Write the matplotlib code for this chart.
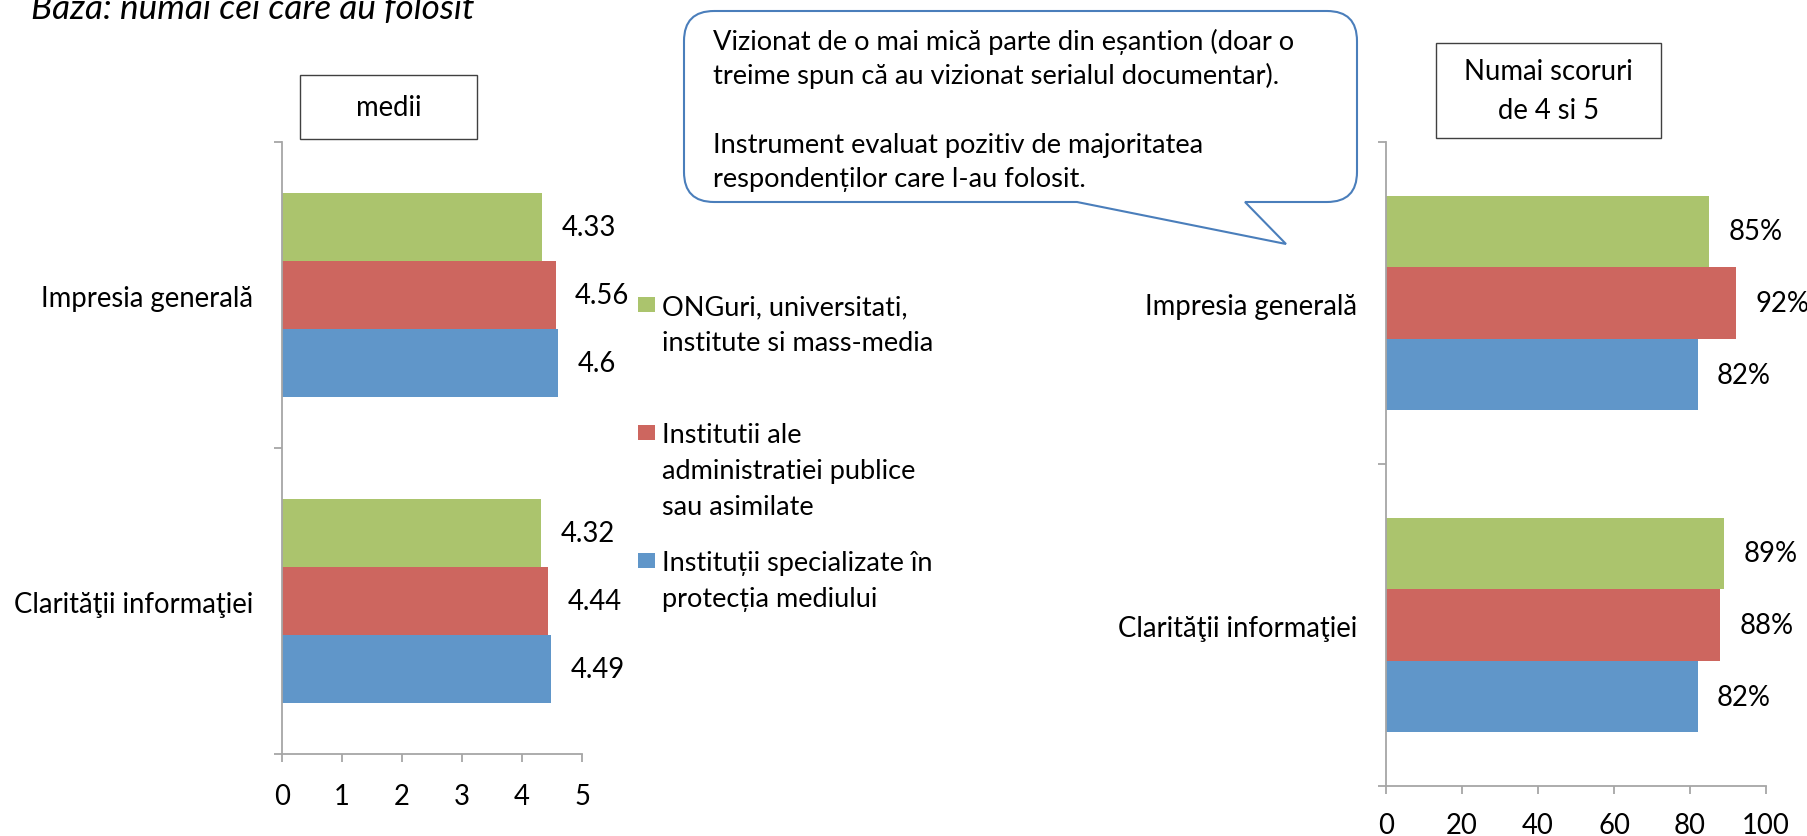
import matplotlib
matplotlib.use("Agg")
import matplotlib.pyplot as plt
import numpy as np
from matplotlib.path import Path
from matplotlib.patches import PathPatch, Rectangle

plt.rcParams['font.family'] = ['Lato', 'DejaVu Sans']

# data (categories listed bottom -> top)
categories = ["Clarităţii informaţiei", "Impresia generală"]
series_names = ["ONGuri, universitati,\ninstitute si mass-media",
                "Institutii ale\nadministratiei publice\nsau asimilate",
                "Instituții specializate în\nprotecția mediului"]
medii_ong = [4.32, 4.33]
medii_adm = [4.44, 4.56]
medii_spec = [4.49, 4.6]
scor_ong = [89, 85]
scor_adm = [88, 92]
scor_spec = [82, 82]
colors = ['#ABC46D', '#CD665F', '#6096C9']

callout_lines = ["Vizionat de o mai mică parte din eșantion (doar o",
                 "treime spun că au vizionat serialul documentar).",
                 "Instrument evaluat pozitiv de majoritatea",
                 "respondenților care l-au folosit."]

W, H = 1807, 837
fig = plt.figure(figsize=(W / 100, H / 100), dpi=100)


def fx(x):
    return x / W


def fy(y):
    return 1 - y / H


AX_GRAY = '#A6A6A6'
LABEL_FS = 19.8


def bar_panel(rect, vals, xmax, step, fmt, xpad):
    ax = fig.add_axes(rect)
    y = np.arange(len(categories))
    h = 2 / 9
    offsets = [h, 0, -h]
    for v, off, c in zip(vals, offsets, colors):
        bars = ax.barh(y + off, v, height=h, color=c, edgecolor='none')
        for b, val in zip(bars, v):
            ax.annotate(fmt(val), (b.get_width(), b.get_y() + h / 2),
                        xytext=(14, 0), textcoords='offset points',
                        va='center', ha='left', fontsize=LABEL_FS)
    ax.set_xlim(0, xmax)
    ax.set_ylim(-0.5, len(categories) - 0.5)
    ax.set_xticks(np.arange(0, xmax + step / 2, step))
    ax.set_yticks(y)
    ax.set_yticklabels(categories)
    ax.set_yticks([-0.5, 0.5, 1.5], minor=True)
    ax.tick_params(axis='y', which='major', length=0, pad=21, labelsize=LABEL_FS)
    ax.tick_params(axis='y', which='minor', length=5.8, width=1.3, color=AX_GRAY)
    ax.tick_params(axis='x', length=5.8, width=1.3, color=AX_GRAY, pad=xpad,
                   labelsize=LABEL_FS)
    for s in ['top', 'right']:
        ax.spines[s].set_visible(False)
    for s in ['left', 'bottom']:
        ax.spines[s].set_color(AX_GRAY)
        ax.spines[s].set_linewidth(1.3)
    return ax


# left panel: averages
bar_panel([fx(282), fy(755), 300 / W, 612 / H],
          [medii_ong, medii_adm, medii_spec], 5, 1, lambda v: f"{v:g}", 15)
# right panel: share of 4 and 5 scores
bar_panel([fx(1386), fy(787), 380 / W, 644 / H],
          [scor_ong, scor_adm, scor_spec], 100, 20, lambda v: f"{v}%", 13)

# title (cut at top, as in the source)
fig.text(fx(31), fy(19), "Baza: numai cei care au folosit", style='italic',
         fontsize=25.3, va='baseline', ha='left')

# small boxed captions
for (x0, y0, x1, y1), lines in [((300, 76, 477, 140), ["medii"]),
                                ((1436, 44, 1661, 139), ["Numai scoruri", "de 4 si 5"])]:
    fig.add_artist(Rectangle((fx(x0), fy(y1)), (x1 - x0) / W, (y1 - y0) / H,
                             transform=fig.transFigure, facecolor='white',
                             edgecolor='#404040', lw=1.0))
    n = len(lines)
    cy = (y0 + y1) / 2
    for i, ln in enumerate(lines):
        yy = cy + (i - (n - 1) / 2) * 39
        fig.text(fx((x0 + x1) / 2), fy(yy), ln, ha='center', va='center',
                 fontsize=LABEL_FS)

# legend drawn by hand (entries evenly spaced by first line)
leg_base = [315, 443, 571]
for name, c, b in zip(series_names, colors, leg_base):
    fig.add_artist(Rectangle((fx(638), fy(b - 2)), 17 / W, 15 / H,
                             transform=fig.transFigure, facecolor=c,
                             edgecolor='none'))
    for i, ln in enumerate(name.split("\n")):
        fig.text(fx(662), fy(b + i * 36), ln, ha='left', va='baseline',
                 fontsize=19.5)

# speech-bubble callout
L, R, T, B, r = 684, 1357, 12, 203, 30
bx1, bx2, tip = 1077, 1245, (1286, 245)
pts = [(L + r, T), (R - r, T), (R, T), (R, T + r), (R, B - r), (R, B), (R - r, B),
       (bx2, B), tip, (bx1, B), (L + r, B), (L, B), (L, B - r), (L, T + r), (L, T),
       (L + r, T)]
codes = [Path.MOVETO, Path.LINETO, Path.CURVE3, Path.CURVE3, Path.LINETO,
         Path.CURVE3, Path.CURVE3, Path.LINETO, Path.LINETO, Path.LINETO,
         Path.LINETO, Path.CURVE3, Path.CURVE3, Path.LINETO, Path.CURVE3,
         Path.CURVE3]
path = Path([(fx(x), fy(y)) for x, y in pts], codes)
fig.add_artist(PathPatch(path, transform=fig.transFigure, facecolor='white',
                         edgecolor='#4A7EBB', lw=1.5))
for ln, b in zip(callout_lines, [50, 84, 153, 187]):
    fig.text(fx(713), fy(b), ln, ha='left', va='baseline', fontsize=19.6)

fig.savefig("out.png", dpi=100)
